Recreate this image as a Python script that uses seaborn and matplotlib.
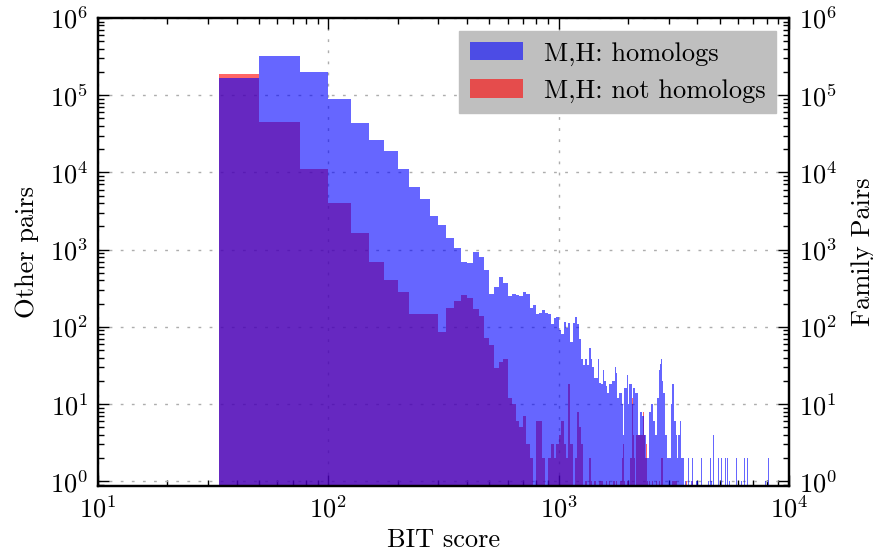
import numpy as np
import pandas as pd
import matplotlib
matplotlib.use("Agg")
import matplotlib.pyplot as plt
import seaborn as sns
from matplotlib.patches import Patch

plt.rcParams.update({
    "font.family": ["cmr10", "DejaVu Serif"],
    "mathtext.fontset": "cm",
    "axes.formatter.use_mathtext": True,
    "font.size": 19,
    "axes.unicode_minus": False,
})

# ---- histogram bins: first bin starts at the lowest score, then 25-point steps
first_edge = 33.5
bin_step = 25
last_edge = 8350

# ---- counts per bin, homolog pairs (blue)
# bins 33.5-50, 50-75, ..., 975-1000
blue_head = [168000, 322000, 198000, 88700, 43400, 26200, 18900, 11000, 6450, 4520,
             2720, 2080, 1410, 1050, 692, 672, 932, 802, 545, 267,
             328, 443, 370, 251, 267, 259, 251, 283, 267, 176,
             192, 147, 151, 165, 151, 147, 109, 130, 134]
# bins 1000-1025 ... 1975-2000
blue_mid = [91, 81, 116, 97, 112, 64, 112, 134, 109, 70,
            38, 32, 38, 32, 53, 38, 30, 22, 22, 38,
            19, 18, 28, 20, 17, 14, 18, 18, 20, 20,
            30, 25, 12, 14, 14, 10, 4, 16, 16, 24]
# bins 2000-2025 ... 3475-3500
blue_late = [10, 18, 18, 10, 16, 16, 14, 14, 4, 4,
             8, 8, 7, 7, 4, 4, 2, 2, 2, 8,
             8, 10, 10, 6, 6, 4, 4, 12, 12, 28,
             33, 38, 20, 8, 14, 14, 4, 4, 2, 2,
             2, 2, 2, 10, 18, 18, 18, 6, 6, 4,
             4, 2, 4, 4, 6, 6, 2, 2, 1, 2]
# sparse high-score tail
blue_tail_scores = [3560, 3660, 3710, 3760, 3810, 3910, 3960, 4010, 4060, 4160,
                    4300, 4360, 4410, 4460, 4560, 4610, 4700, 4750, 4810, 4860,
                    4940, 5010, 5090, 5160, 5210, 5300, 5410, 5510, 5600, 5710,
                    5810, 5910, 6010, 6110, 6210, 6310, 6410, 6510, 6600, 6710,
                    6910, 7110, 7310, 7610, 7910, 8140]
blue_tail_counts = [1, 2, 1, 1, 2, 1, 1, 1, 1, 2,
                    2, 1, 1, 1, 2, 1, 4, 2, 1, 2,
                    2, 1, 2, 1, 1, 2, 2, 1, 2, 1,
                    1, 2, 1, 1, 1, 1, 2, 1, 2, 1,
                    1, 1, 1, 1, 1, 2]

# ---- counts per bin, non-homolog pairs (red)
red_head = [187000, 44800, 11000, 4010, 1640, 692, 405, 283, 147, 147,
            147, 87, 176, 216, 259, 237, 171, 138, 72, 58,
            29, 35, 38, 12, 10, 6, 5, 7, 3, 2,
            0, 6, 6, 2, 0, 2, 3, 2, 3]
red_mid = [4, 6, 3, 2, 18, 3, 0, 2, 8, 5,
           3, 0, 1, 0, 2, 1, 0, 1, 0, 0,
           1, 1, 0, 0, 1, 0, 1, 0, 0, 1,
           0, 1, 0, 0, 1, 2, 3, 1, 0, 1]
red_late = [1, 0, 2, 12, 4, 2, 0, 4, 4, 4,
            4, 4, 4, 8, 4, 2, 3, 1, 0, 1,
            0, 0, 1, 0, 0, 0, 1, 0, 0, 1,
            0, 2, 2, 2, 0, 0, 0, 0, 0, 0,
            0, 0, 0, 0, 1, 1, 1, 1, 1, 1,
            0, 0, 0, 0, 0, 0, 0, 0, 0, 0]
red_tail_scores = [3590, 3810, 4180]
red_tail_counts = [1, 1, 1]

legend_labels = ["M,H: homologs", "M,H: not homologs"]

edges = np.concatenate([[first_edge], np.arange(50, last_edge + bin_step, bin_step)])
centers = 0.5 * (edges[:-1] + edges[1:])


def bin_counts(head, mid, late, tail_scores, tail_counts):
    counts = np.zeros(len(centers))
    dense = np.concatenate([head, mid, late])
    counts[:len(dense)] = dense
    idx = np.searchsorted(edges, tail_scores, side="right") - 1
    np.add.at(counts, idx, tail_counts)
    return counts


df = pd.DataFrame({
    "score": centers,
    "homologs": bin_counts(blue_head, blue_mid, blue_late, blue_tail_scores, blue_tail_counts),
    "not_homologs": bin_counts(red_head, red_mid, red_late, red_tail_scores, red_tail_counts),
})

fig = plt.figure(figsize=(8.73, 5.52), dpi=100)
ax = fig.add_axes([98 / 873, 1 - 486 / 552, (789 - 98) / 873, (486 - 18) / 552])

bin_list = [float(e) for e in edges]
sns.histplot(data=df, x="score", weights="not_homologs", bins=bin_list, color="red",
             alpha=0.6, linewidth=0, ax=ax)
sns.histplot(data=df, x="score", weights="homologs", bins=bin_list, color="blue",
             alpha=0.6, linewidth=0, ax=ax)

ax.set_xscale("log")
ax.set_yscale("log")
ax.set_xlim(10, 1e4)
ax.set_ylim(0.87, 1e6)
ax.set_axisbelow(True)
ax.grid(True, which="major", color="0.68", linestyle=(0, (2, 6)), linewidth=1)

ax.set_xlabel("BIT score", labelpad=4)
ax.set_ylabel("Other pairs", labelpad=8)

ax.tick_params(which="both", direction="in", top=True, right=False, width=1, pad=7)
ax.tick_params(which="major", length=8)
ax.tick_params(which="minor", length=4)

ax2 = ax.twinx()
ax2.set_yscale("log")
ax2.set_ylim(ax.get_ylim())
ax2.set_ylabel("Family Pairs", labelpad=10)
ax2.tick_params(which="both", direction="in", left=False, width=1, pad=7)
ax2.tick_params(which="major", length=8)
ax2.tick_params(which="minor", length=4)

for a in (ax, ax2):
    for s in a.spines.values():
        s.set_linewidth(1.6)
        s.set_color("black")

handles = [Patch(facecolor="blue", alpha=0.6, linewidth=0),
           Patch(facecolor="red", alpha=0.6, linewidth=0)]
leg = ax.legend(handles, legend_labels, loc="upper right", fancybox=False,
                facecolor="0.75", edgecolor="0.75", framealpha=1, fontsize=19,
                borderaxespad=0.5)

fig.savefig("out.png", dpi=100)
